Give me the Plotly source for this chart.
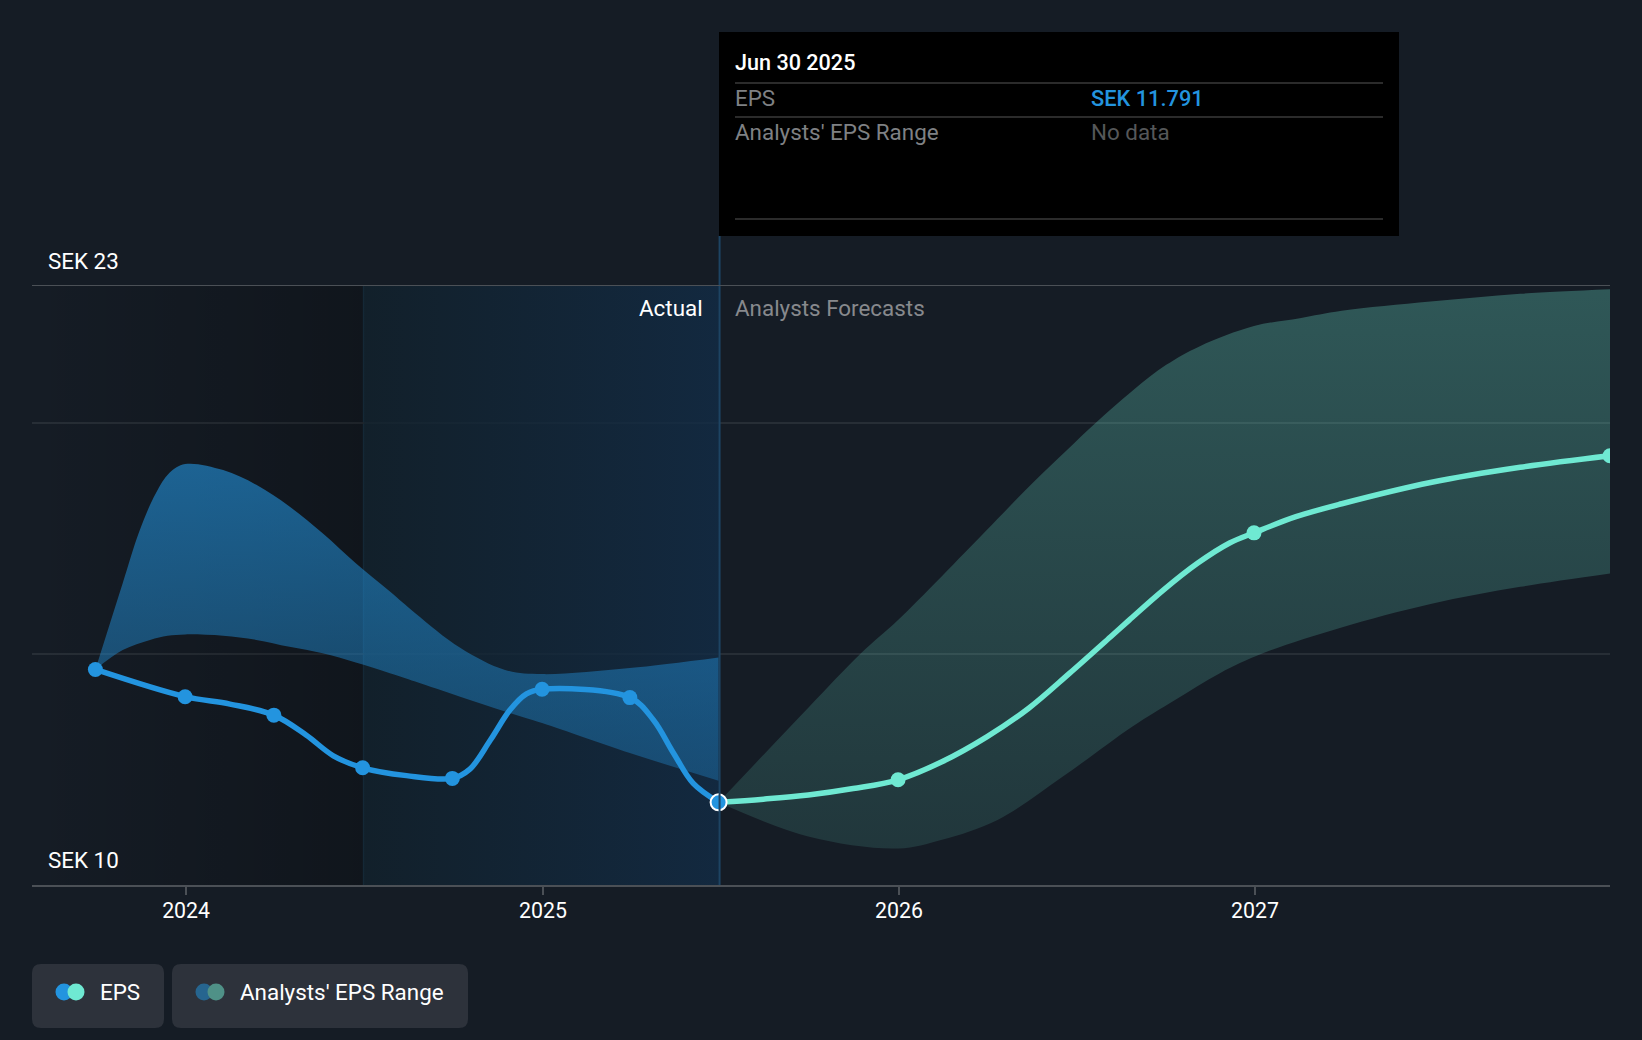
import plotly.graph_objects as go

# values
actual_dates = ["2023-09-30", "2023-12-31", "2024-03-31", "2024-06-30", "2024-09-30", "2024-12-31", "2025-03-31", "2025-06-30"]
actual_eps = [14.67, 14.08, 13.68, 12.54, 12.31, 14.24, 14.06, 11.791]

curve_dates = ["2023-09-30", "2023-12-31", "2024-02-15", "2024-03-31", "2024-05-03", "2024-05-31", "2024-06-30", "2024-08-14",
               "2024-09-30", "2024-10-18", "2024-11-08", "2024-11-28", "2024-12-15", "2024-12-31", "2025-03-31", "2025-04-24",
               "2025-05-15", "2025-06-04", "2025-06-30"]
curve_eps = [14.67, 14.08, 13.92, 13.68, 13.25, 12.80, 12.54, 12.37, 12.31, 12.51, 13.14, 13.79, 14.14, 14.24, 14.06, 13.58,
             12.85, 12.20, 11.791]

high_dates = ["2023-09-30", "2023-10-28", "2023-11-14", "2023-12-01", "2023-12-15", "2023-12-31", "2024-02-08", "2024-03-13",
              "2024-04-16", "2024-05-20", "2024-06-23", "2024-07-28", "2024-08-23", "2024-10-08", "2024-11-23", "2024-12-31",
              "2025-03-31", "2025-06-30"]
actual_high = [14.67, 16.54, 17.66, 18.49, 18.93, 19.12, 18.99, 18.67, 18.20, 17.62, 16.97, 16.36, 15.89, 15.14, 14.66, 14.57,
               14.70, 14.93]
low_dates = ["2023-09-30", "2023-10-28", "2023-11-25", "2023-12-13", "2023-12-31", "2024-02-08", "2024-03-13", "2024-04-16",
             "2024-05-20", "2024-06-23", "2024-07-28", "2024-08-23", "2024-10-08", "2024-11-23", "2024-12-31", "2025-03-31",
             "2025-06-30"]
actual_low = [14.67, 15.09, 15.31, 15.40, 15.43, 15.40, 15.31, 15.16, 15.02, 14.82, 14.59, 14.41, 14.08, 13.76, 13.51, 12.86,
              12.26]

forecast_dates = ["2025-06-30", "2025-08-15", "2025-09-30", "2025-11-15", "2025-12-31", "2026-02-14", "2026-04-01", "2026-05-14",
                  "2026-06-25", "2026-08-06", "2026-08-25", "2026-09-29", "2026-11-03", "2026-12-06", "2026-12-31", "2027-02-12",
                  "2027-03-31", "2027-06-30", "2027-09-30", "2027-12-31"]
forecast_eps = [11.791, 11.86, 11.95, 12.09, 12.28, 12.67, 13.21, 13.83, 14.59, 15.38, 15.74, 16.39, 16.97, 17.41, 17.63, 17.98,
                18.26, 18.72, 19.05, 19.30]
lower_dates = ["2025-06-30", "2025-09-30", "2025-12-31", "2026-02-14", "2026-04-12", "2026-06-18", "2026-08-28", "2026-10-11",
               "2026-11-26", "2027-01-09", "2027-03-29", "2027-06-30", "2027-09-30", "2027-12-31"]
forecast_low = [11.791, 11.05, 10.79, 10.98, 11.41, 12.35, 13.43, 14.01, 14.59, 15.02, 15.57, 16.09, 16.46, 16.75]
upper_dates = ["2025-06-30", "2025-09-30", "2025-11-23", "2025-12-31", "2026-03-31", "2026-05-18", "2026-06-22", "2026-07-21",
               "2026-08-29", "2026-10-02", "2026-11-05", "2026-12-31", "2027-02-16", "2027-03-31", "2027-06-30",
               "2027-09-30", "2027-12-31"]
forecast_high = [11.791, 13.84, 15.02, 15.74, 17.67, 18.71, 19.42, 20.00, 20.72, 21.27, 21.67, 22.11, 22.28, 22.44, 22.64,
                 22.81, 22.91]

marker_dates = ["2025-12-31", "2026-12-31", "2027-12-31"]
marker_eps = [12.28, 17.63, 19.30]

tick_dates = ["2024-01-01", "2025-01-01", "2026-01-01", "2027-01-01"]
tick_labels = ["2024", "2025", "2026", "2027"]
grid_values = [15, 20]
y_min, y_max = 10, 23
x_start, x_end = "2023-07-27", "2027-12-31"
past_mid, now = "2024-07-01", "2025-07-01"

BG = "#151c25"
BLUE = "#2394df"
TEAL = "#6fe9d2"
FONT = "Roboto"
SMOOTH = dict(shape="spline", smoothing=1.0)


def px(x):
    return (x - 32) / 1578


def py(y):
    return (885 - y) / 600


def rrect(x0, y0, x1, y1, r=9):
    a, b, c, d = px(x0), py(y0), px(x1), py(y1)
    rx, ry = r / 1578, r / 600
    return (f"M {a+rx} {b} L {c-rx} {b} Q {c} {b} {c} {b-ry} L {c} {d+ry} Q {c} {d} {c-rx} {d} "
            f"L {a+rx} {d} Q {a} {d} {a} {d+ry} L {a} {b-ry} Q {a} {b} {a+rx} {b} Z")


fig = go.Figure()

# shaded backdrops
fig.add_trace(go.Scatter(x=[x_start, past_mid, past_mid, x_start], y=[y_min, y_min, y_max, y_max],
                         fill="toself", mode="none", hoverinfo="skip",
                         fillgradient=dict(type="horizontal", colorscale=[[0, "rgba(0,0,0,0)"], [1, "rgba(0,0,0,0.24)"]])))
fig.add_trace(go.Scatter(x=[past_mid, now, now, past_mid], y=[y_min, y_min, y_max, y_max],
                         fill="toself", mode="none", hoverinfo="skip",
                         fillgradient=dict(type="horizontal", colorscale=[[0, "rgba(17,33,44,0.8)"], [1, "rgba(18,44,70,0.8)"]])))

# analyst ranges
fig.add_trace(go.Scatter(x=low_dates, y=actual_low, mode="lines", line=dict(width=0, **SMOOTH), hoverinfo="skip"))
fig.add_trace(go.Scatter(x=high_dates, y=actual_high, mode="lines", line=dict(width=0, **SMOOTH),
                         fill="tonexty", hoverinfo="skip",
                         fillgradient=dict(type="vertical", colorscale=[[0, "rgba(35,148,223,0.33)"], [1, "rgba(35,148,223,0.6)"]])))
fig.add_trace(go.Scatter(x=lower_dates, y=forecast_low, mode="lines", line=dict(width=0, **SMOOTH), hoverinfo="skip"))
fig.add_trace(go.Scatter(x=upper_dates, y=forecast_high, mode="lines", line=dict(width=0, **SMOOTH),
                         fill="tonexty", hoverinfo="skip",
                         fillgradient=dict(type="vertical", colorscale=[[0, "rgba(111,233,210,0.13)"], [1, "rgba(111,233,210,0.29)"]])))

# EPS lines
fig.add_trace(go.Scatter(x=forecast_dates, y=forecast_eps, mode="lines", line=dict(color=TEAL, width=5.5, **SMOOTH)))
fig.add_trace(go.Scatter(x=marker_dates, y=marker_eps, mode="markers", marker=dict(color=TEAL, size=15)))
fig.add_trace(go.Scatter(x=curve_dates, y=curve_eps, mode="lines", line=dict(color=BLUE, width=5.5, **SMOOTH)))
fig.add_trace(go.Scatter(x=actual_dates, y=actual_eps, mode="markers", marker=dict(color=BLUE, size=15)))
fig.add_trace(go.Scatter(x=[actual_dates[-1]], y=[actual_eps[-1]], mode="markers",
                         marker=dict(color=BLUE, size=16, line=dict(color="white", width=2))))

shapes = [
    dict(type="line", xref="x", yref="y", x0=past_mid, x1=past_mid, y0=y_min, y1=y_max, line=dict(color="#1a3245", width=1.5), layer="below"),
    dict(type="line", xref="x", yref="paper", x0=now, x1=now, y0=0, y1=py(236), line=dict(color="#1d4463", width=2)),
    dict(type="line", xref="paper", yref="y", x0=0, x1=1, y0=y_max, y1=y_max, line=dict(color="#4b5056", width=2)),
    # tooltip box
    dict(type="rect", xref="paper", yref="paper", x0=px(719), x1=px(1399), y0=py(32), y1=py(236), fillcolor="black", line_width=0),
]
for y in (83, 117, 219):
    shapes.append(dict(type="line", xref="paper", yref="paper", x0=px(735), x1=px(1383), y0=py(y), y1=py(y),
                       line=dict(color="#3a3a3a", width=1.5)))
# legend chips
shapes.append(dict(type="path", xref="paper", yref="paper", path=rrect(32, 964, 164, 1028), fillcolor="#2d323b", line_width=0))
shapes.append(dict(type="path", xref="paper", yref="paper", path=rrect(172, 964, 468, 1028), fillcolor="#2d323b", line_width=0))
for cx, col in ((64, BLUE), (76, TEAL), (204, "#26658f"), (216, "#4f9187")):
    shapes.append(dict(type="circle", xref="paper", yref="paper", x0=px(cx - 8.5), x1=px(cx + 8.5),
                       y0=py(992 + 8.5), y1=py(992 - 8.5), fillcolor=col, line_width=0))


def label(x, y, text, color="white", anchor="left", weight=400, size=22.4):
    return dict(xref="paper", yref="paper", x=px(x), y=py(y), text=text, showarrow=False, xanchor=anchor, yanchor="middle",
                font=dict(family=FONT, size=size, color=color, weight=weight), borderpad=0, borderwidth=0)


annotations = [
    label(48, 261, "SEK 23"),
    label(48, 860, "SEK 10"),
    label(703, 308, "Actual", anchor="right"),
    label(735, 308, "Analysts Forecasts", color="#87898d"),
    label(735, 63, "Jun 30 2025", weight=500, size=21.6),
    label(735, 98, "EPS", color="#7f8184"),
    label(1091, 99, "SEK 11.791", color=BLUE, weight=500, size=21.8),
    label(735, 132, "Analysts' EPS Range", color="#7f8184"),
    label(1091, 132, "No data", color="#555759"),
    label(100, 992, "EPS"),
    label(240, 992, "Analysts' EPS Range"),
]

fig.update_layout(
    width=1642, height=1040,
    margin=dict(l=32, r=32, t=285, b=155),
    paper_bgcolor=BG, plot_bgcolor=BG,
    showlegend=False,
    font=dict(family=FONT, size=21, color="white"),
    shapes=shapes, annotations=annotations,
    xaxis=dict(type="date", range=[x_start, x_end], tickmode="array", tickvals=tick_dates, ticktext=tick_labels,
               ticks="outside", ticklen=8, tickcolor="#4b5056", tickwidth=1.5, showgrid=False, zeroline=False,
               ticklabelstandoff=-3,
               showline=True, linecolor="#4b5056", linewidth=2, tickfont=dict(family=FONT, size=21.3, color="white")),
    yaxis=dict(range=[y_min, y_max], tickmode="array", tickvals=grid_values, showticklabels=False, showgrid=True,
               gridcolor="#272e36", gridwidth=1.5, zeroline=False, ticks=""),
)

fig.write_html("out.html", config=dict(displayModeBar=False),
               post_script="document.body.style.margin='0';document.body.style.overflow='hidden';")
